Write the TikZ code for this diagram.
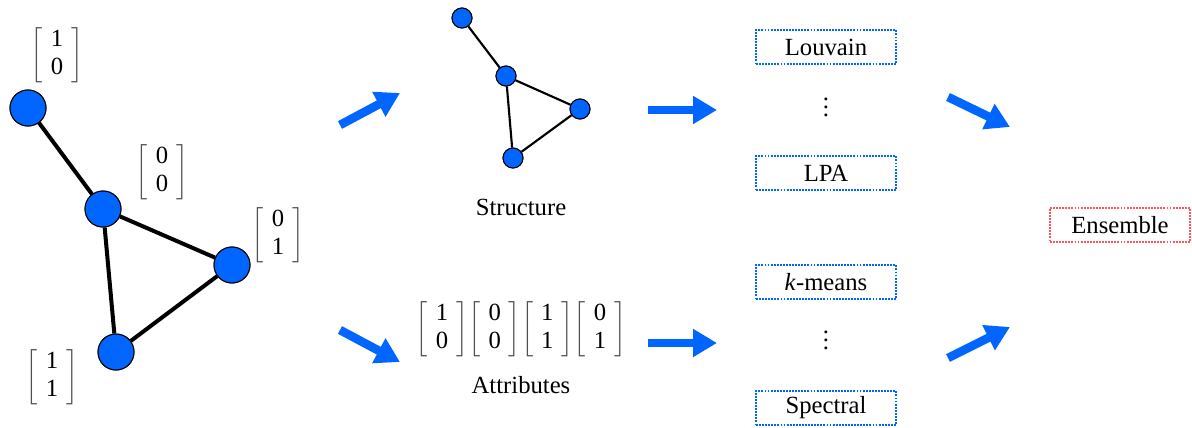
\documentclass[tikz,border=0pt]{standalone}
\usepackage{amsmath}
\usepackage{fontspec}
\setmainfont{Liberation Serif}
\usetikzlibrary{arrows.meta}
\definecolor{flowblue}{RGB}{0,102,255}
\definecolor{ensred}{RGB}{255,85,85}
\definecolor{brgray}{RGB}{80,80,80}
\newcommand{\attvec}[2]{{\color{brgray}$\left[\begin{array}{@{\hspace{6pt}}c@{\hspace{6pt}}}\text{\color{black}#1}\\ \text{\color{black}#2}\end{array}\right]$}}
\newcommand{\tallvdots}{\vbox{\baselineskip=6pt \lineskiplimit=0pt \hbox{.}\hbox{.}\hbox{.}}}

\tikzset{every picture/.style={line width=0.75pt}}
\tikzset{
  bignode/.style={circle, draw=black, fill=flowblue, minimum size=27pt, inner sep=0pt},
  smallnode/.style={circle, draw=black, fill=flowblue, minimum size=15pt, inner sep=0pt},
  fatarrow/.style={draw=flowblue, line width=6.5pt, -{Triangle[length=18pt,width=20pt]}},
  algbox/.style={draw=flowblue, line width=1.5pt, dash pattern=on 1.4pt off 0.9pt, minimum width=105pt, minimum height=25.5pt, inner sep=0pt},
  ensbox/.style={draw=ensred, line width=1.5pt, dash pattern=on 1.4pt off 0.9pt, minimum width=105pt, minimum height=26pt, inner sep=0pt}
}

\begin{document}
\begin{tikzpicture}[x=0.75pt,y=0.75pt,yscale=-1,xscale=1]
	\useasboundingbox (0,0) rectangle (1192,428);
	\fontsize{18.5}{21}\selectfont
	
	% Left graph
	\node [bignode] (n1) at (28,108) {};
	\node [bignode] (n2) at (103,209) {};
	\node [bignode] (n3) at (232,265) {};
	\node [bignode] (n4) at (116,352) {};
	\draw [line width=3pt] (n1) -- (n2) (n2) -- (n3) (n3) -- (n4) (n4) -- (n2);
	\draw [bignode] (n1) circle (13.5pt) (n2) circle (13.5pt) (n3) circle (13.5pt) (n4) circle (13.5pt);
	
	% Text Node
	\node (v1) at (57,55) {\attvec{1}{0}};
	\node (v2) at (162,172) {\attvec{0}{0}};
	\node (v3) at (278,235) {\attvec{0}{1}};
	\node (v4) at (52,377) {\attvec{1}{1}};
	
	% Structure graph
	\node [smallnode] (s1) at (462,18) {};
	\node [smallnode] (s2) at (506,76) {};
	\node [smallnode] (s3) at (580,109) {};
	\node [smallnode] (s4) at (513,158) {};
	\draw [line width=1.6pt] (s1) -- (s2) (s2) -- (s3) (s3) -- (s4) (s4) -- (s2);
	\draw [smallnode] (s1) circle (7.5pt) (s2) circle (7.5pt) (s3) circle (7.5pt) (s4) circle (7.5pt);
	% Text Node
	\node (struct) at (521,207) {Structure};
	
	% Attributes
	\node [inner sep=0pt] (attrs) at (521,329) {\attvec{1}{0}\attvec{0}{0}\attvec{1}{1}\attvec{0}{1}};
	% Text Node
	\node (attlbl) at (521,385) {Attributes};
	
	% Algorithms
	\node [algbox] (louvain) at (826,47) {Louvain};
	\node [inner sep=0pt] (dots1) at (826,107) {\tallvdots};
	\node [algbox] (lpa) at (826,173) {LPA};
	\node [algbox] (kmeans) at (826,282) {\textit{k}-means};
	\node [inner sep=0pt] (dots2) at (826,340) {\tallvdots};
	\node [algbox] (spectral) at (826,408) {Spectral};
	
	\node [ensbox] (ensemble) at (1120,225) {Ensemble};
	
	% Arrows
	\coordinate (a1s) at (340,125); \coordinate (a1e) at (400,93);
	\coordinate (a2s) at (340,330); \coordinate (a2e) at (400,362);
	\coordinate (a3s) at (648,110); \coordinate (a3e) at (717,110);
	\coordinate (a4s) at (648,343); \coordinate (a4e) at (717,343);
	\coordinate (a5s) at (948,97);  \coordinate (a5e) at (1010,127);
	\coordinate (a6s) at (948,358); \coordinate (a6e) at (1010,327);
	\foreach \i in {1,...,6}
		\draw [fatarrow] (a\i s) -- (a\i e);
	
\end{tikzpicture}
\end{document}
